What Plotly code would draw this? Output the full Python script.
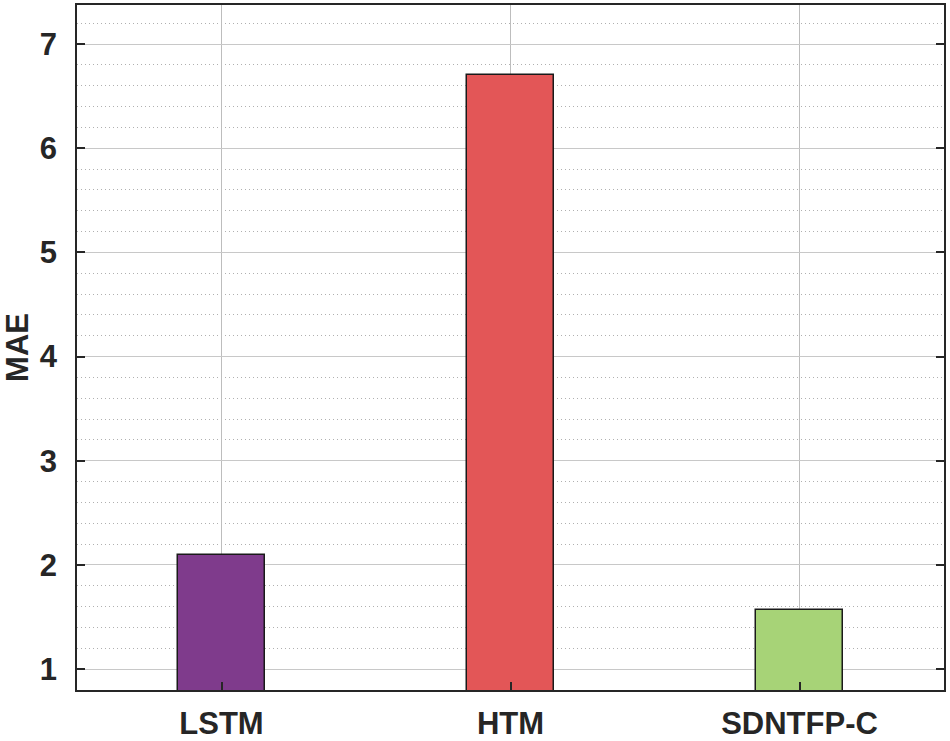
import plotly.graph_objects as go

categories = ["LSTM", "HTM", "SDNTFP-C"]
mae_values = [2.1, 6.7, 1.57]
bar_colors = ["#7f3b8c", "#e35657", "#a7d377"]
y_ticks = [1, 2, 3, 4, 5, 6, 7]

FONT = "Liberation Sans, Arial, sans-serif"
TXT = "#262626"

fig = go.Figure()
fig.add_trace(go.Bar(
    x=categories, y=mae_values, width=0.3,
    marker=dict(color=bar_colors, line=dict(color="#1a1a1a", width=1.5)),
    showlegend=False,
))

fig.update_layout(
    width=950, height=741,
    margin=dict(l=77, r=6, t=5, b=51),
    plot_bgcolor="white", paper_bgcolor="white",
    font=dict(family=FONT, size=31, color=TXT),
    bargap=0,
)
fig.update_xaxes(
    range=[-0.5, 2.5], automargin=False,
    showgrid=True, gridcolor="#bdbdbd", gridwidth=1,
    ticks="inside", ticklen=8, tickcolor=TXT, tickwidth=1.5,
    showline=True, linecolor=TXT, linewidth=1.5, mirror=True,
    tickfont=dict(family=FONT, size=31, color=TXT, weight="bold"),
    ticklabelstandoff=5,
)
fig.update_yaxes(
    range=[0.8, 7.375], automargin=False,
    tickvals=y_ticks,
    showgrid=True, gridcolor="#c8c8c8", gridwidth=1,
    minor=dict(dtick=0.2, tick0=0, showgrid=True, griddash="1px,3px", gridcolor="#b0b0b0", gridwidth=1),
    ticks="inside", ticklen=8, tickcolor=TXT, tickwidth=1.5,
    showline=True, linecolor=TXT, linewidth=1.5, mirror="ticks",
    zeroline=False,
    tickfont=dict(family=FONT, size=31, color=TXT, weight="bold"),
    ticklabelstandoff=12,
    title=dict(text="MAE", font=dict(family=FONT, size=31, color=TXT, weight="bold"), standoff=16),
)

fig.write_html(
    "out.html",
    config={"displayModeBar": False},
    post_script="document.body.style.margin='0';document.body.style.overflow='hidden';",
)
